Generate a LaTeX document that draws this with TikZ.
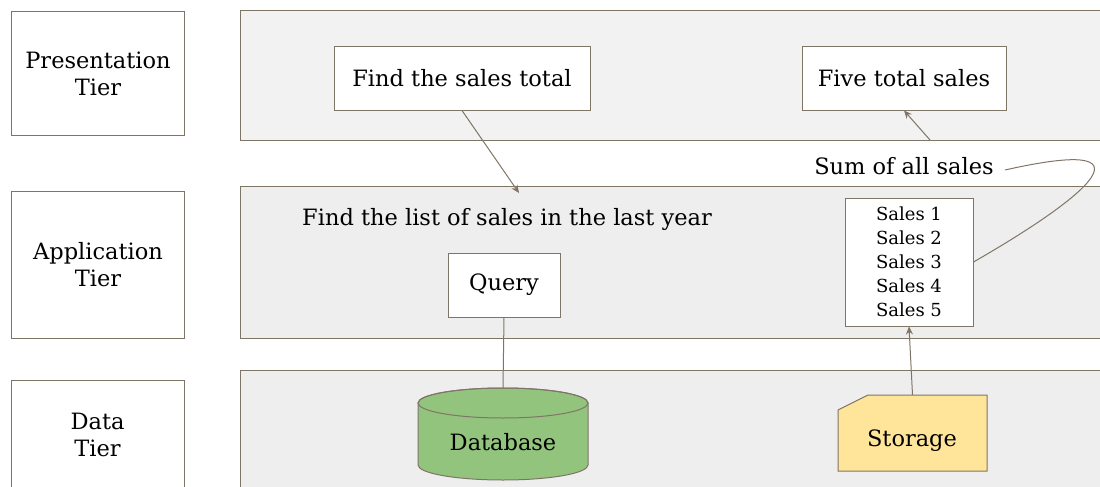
\documentclass[tikz,border=0pt]{standalone}
\usepackage{fontspec}
\setmainfont{DejaVu Serif}
\usetikzlibrary{arrows.meta}
\definecolor{bordc}{HTML}{7F7566}
\definecolor{panelA}{HTML}{F2F2F2}
\definecolor{panelB}{HTML}{EEEEEE}
\definecolor{dbgreen}{HTML}{93C47D}
\definecolor{styellow}{HTML}{FFE599}
\tikzset{
  tierbox/.style={draw=bordc, line width=1pt, fill=white, align=center, font=\fontsize{22.5}{27}\selectfont, anchor=north west, inner sep=0pt},
  wbox/.style={draw=bordc, line width=1pt, fill=white, align=center, font=\fontsize{22.5}{27}\selectfont, inner sep=0pt},
  lbl/.style={font=\fontsize{22.5}{27}\selectfont, inner sep=0pt},
  conn/.style={draw=bordc, line width=1pt},
  arr/.style={conn, -{Stealth[length=8pt,width=7pt]}},
}
\begin{document}
\begin{tikzpicture}[x=1pt,y=-1pt]
\useasboundingbox (0,0) rectangle (1100,487);
% panels
\fill[panelA] (240,11) rectangle (1101,140);
\draw[bordc, line width=1pt] (1101,11) -- (240,11) -- (240,140) -- (1101,140);
\fill[panelB] (240,186) rectangle (1101,338);
\draw[bordc, line width=1pt] (1101,186) -- (240,186) -- (240,338) -- (1101,338);
\fill[panelB] (240,370) rectangle (1101,490);
\draw[bordc, line width=1pt] (1101,370) -- (240,370) -- (240,490);
% tier labels
\node[tierbox, minimum width=173, minimum height=124] (pt) at (11,11) {Presentation\\Tier};
\node[tierbox, minimum width=173, minimum height=147] (at) at (11,191) {Application\\Tier};
\node[tierbox, minimum width=173, minimum height=110] (dt) at (11,380) {};
\node[lbl, align=center] (dtl) at (97.5,435) {Data\\Tier};
% presentation
\node[wbox, minimum width=256, minimum height=63] (find) at (462,78.5) {Find the sales total};
\node[wbox, minimum width=204, minimum height=63] (five) at (904,78.5) {Five total sales};
\node[lbl] (sum) at (904,166) {Sum of all sales};
\coordinate (sumtop) at (930,140);
\coordinate (sumend) at (1005,170);
% application
\node[lbl] (list) at (507,219) {Find the list of sales in the last year};
\coordinate (listtop) at (519,193);
\node[wbox, minimum width=112, minimum height=64] (query) at (504,285) {Query};
\node[wbox, minimum width=128, minimum height=128, font=\fontsize{18}{24}\selectfont] (sales) at (909,262) {Sales 1\\Sales 2\\Sales 3\\Sales 4\\Sales 5};
% data
\path[fill=dbgreen, draw=bordc, line width=1pt] (418,403) -- (418,465) arc[start angle=180, end angle=0, x radius=85, y radius=15] -- (588,403) arc[start angle=0, end angle=-180, x radius=85, y radius=15] -- cycle;
\draw[bordc, line width=1pt] (503,403) ellipse[x radius=85, y radius=15];
\node[lbl, minimum width=170, minimum height=92] (db) at (503,434) {};
\node[lbl] (dbl) at (503,442) {Database};
\path[fill=styellow, draw=bordc, line width=1pt] (838,410) -- (868,395) -- (987,395) -- (987,471) -- (838,471) -- cycle;
\node[lbl, minimum width=149, minimum height=76] (st) at (912.5,433) {};
\node[lbl] (stl) at (912,441) {Storage};
% connectors
\draw[arr] (find.south) -- (listtop);
\draw[conn] (query.south) -- (db.north);
\draw[arr] (st.north) -- (sales.south);
\draw[arr] (sumtop) -- (five.south);
\draw[conn] (sumend) .. controls (1160,135) and (1090,195) .. (sales.east);
\end{tikzpicture}
\end{document}
